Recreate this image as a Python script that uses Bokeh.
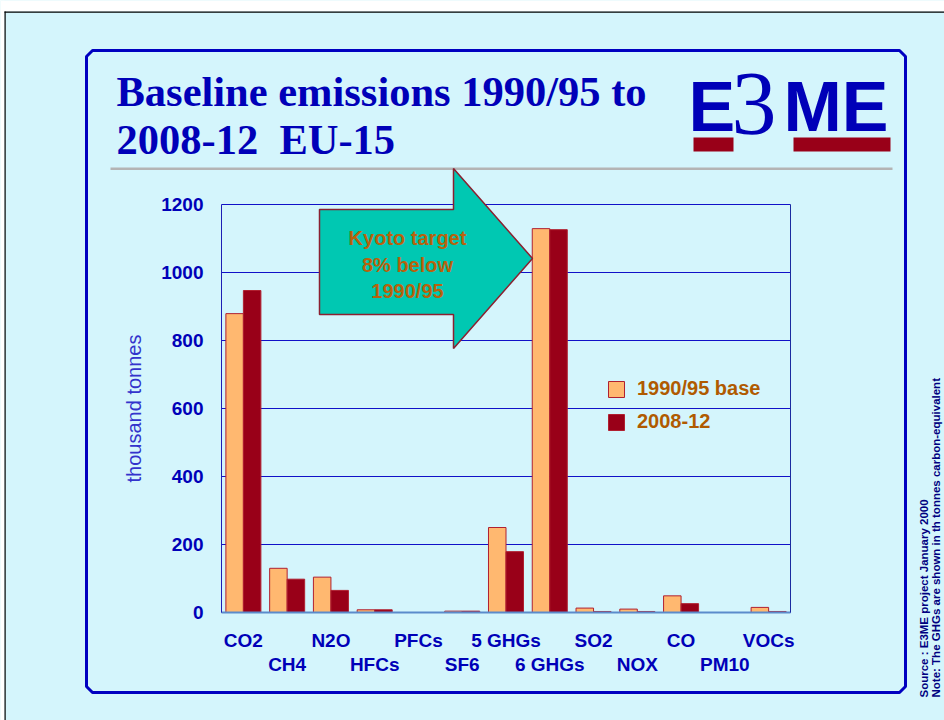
import math
from bokeh.plotting import figure
from bokeh.models import (Range1d, ColumnDataSource, Label, Legend, LegendItem, LinearAxis,
                          FixedTicker)
from bokeh.transform import dodge
from bokeh.embed import file_html
from bokeh.resources import INLINE

# ---------------- data ----------------
categories = ["CO2", "CH4", "N2O", "HFCs", "PFCs", "SF6", "5 GHGs", "6 GHGs",
              "SO2", "NOX", "CO", "PM10", "VOCs"]
base_1990_95 = [879, 130, 104, 8, 0, 4, 250, 1129, 13, 10, 49, 0, 15]
proj_2008_12 = [947, 98, 65, 8, 0, 4, 179, 1126, 3, 3, 26, 0, 3]
y_ticks = [0, 200, 400, 600, 800, 1000, 1200]
series_names = ["1990/95 base", "2008-12"]
title_lines = ["Baseline emissions 1990/95 to", "2008-12\u00a0 EU-15"]
arrow_lines = ["Kyoto target", "8% below", "1990/95"]
source_note = "Source : E3ME project January 2000"
ghg_note = "Note: The GHGs are shown in th tonnes carbon-equivalent"

# ---------------- styles / layout ----------------
BG = "#D4F5FC"
BLUE = "#0000B8"
ORANGE = "#FFB870"
DARKRED = "#990018"
EDGE = "#B02030"
TXT_ORANGE = "#B05A00"

W, H = 944, 720
PX_L, PX_R, PY_T, PY_B = 221, 790, 204, 612   # plot area in canvas pixels
n = len(categories)
YMAX = 1200
centers = [i + 0.5 for i in range(n)]
sx = (PX_R - PX_L) / n
sy = (PY_B - PY_T) / YMAX

p = figure(width=W, height=H, output_backend="svg", toolbar_location=None,
           x_range=Range1d(-PX_L / sx, n + (W - PX_R) / sx),
           y_range=Range1d(-(H - PY_B) / sy, YMAX + PY_T / sy),
           min_border=0, min_border_left=0, min_border_right=0,
           min_border_top=0, min_border_bottom=0,
           background_fill_color=BG, border_fill_color=BG, outline_line_color=None)

# canvas-pixel ranges for the slide decoration
p.extra_x_ranges = {"px": Range1d(0, W)}
p.extra_y_ranges = {"py": Range1d(H, 0)}
KW = dict(x_range_name="px", y_range_name="py")

# ---------------- slide decoration (under the chart) ----------------
p.quad(left=0, right=W, top=0, bottom=11, fill_color="white", line_alpha=0, **KW)
p.quad(left=0, right=4, top=0, bottom=H, fill_color="white", line_alpha=0, **KW)
p.quad(left=4, right=W, top=11, bottom=12.2, fill_color="black", line_alpha=0, **KW)
p.quad(left=4, right=5.2, top=11, bottom=H, fill_color="black", line_alpha=0, **KW)
c = 6
p.patch(x=[86 + c, 905 - c, 905, 905, 905 - c, 86 + c, 86, 86],
        y=[50, 50, 50 + c, 692 - c, 692, 692, 692 - c, 50 + c],
        fill_alpha=0, line_color="#0000C0", line_width=3, **KW)
p.quad(left=110, right=892, top=167, bottom=169.5, fill_color="#B4B4B4", line_alpha=0, **KW)

# ---------------- bars ----------------
src = ColumnDataSource(dict(xc=centers, cat=categories, base=base_1990_95, proj=proj_2008_12))
r1 = p.vbar(x=dodge("xc", -0.2), top="base", width=0.4, source=src,
            fill_color=ORANGE, line_color=EDGE, line_width=1)
r2 = p.vbar(x=dodge("xc", 0.2), top="proj", width=0.4, source=src,
            fill_color=DARKRED, line_color=EDGE, line_width=1)

# ---------------- grid & axes ----------------
p.xgrid.visible = False
g = p.ygrid[0]
g.ticker = FixedTicker(ticks=y_ticks)
g.bounds = (0, YMAX)
g.grid_line_color = "#1010C8"
g.grid_line_width = 1
if "cross_bounds" in g.properties():
    g.cross_bounds = (0, n)
else:
    g.visible = False
    p.segment(x0=0, x1=n, y0=y_ticks, y1=y_ticks, line_color="#1010C8", line_width=1)

ya = p.yaxis[0]
ya.fixed_location = 0
ya.bounds = (0, YMAX)
ya.ticker = FixedTicker(ticks=y_ticks)
ya.major_tick_out = 0
ya.major_tick_in = 0
ya.minor_tick_out = 0
ya.minor_tick_in = 0
ya.major_label_standoff = 18
ya.axis_line_color = "#1E1EB4"
ya.major_label_text_font = "Liberation Sans"
ya.major_label_text_font_style = "bold"
ya.major_label_text_font_size = "19px"
ya.major_label_text_color = BLUE
ya.axis_label = "thousand tonnes"
ya.axis_label_text_font = "Liberation Sans"
ya.axis_label_text_font_style = "normal"
ya.axis_label_text_font_size = "20px"
ya.axis_label_text_color = "#3333CC"
ya.axis_label_standoff = 13

row1 = [i for i in range(n) if i % 2 == 0]
row2 = [i for i in range(n) if i % 2 == 1]
xa1 = p.xaxis[0]
xa1.ticker = FixedTicker(ticks=[centers[i] for i in row1])
xa1.major_label_overrides = {centers[i]: categories[i] for i in row1}
xa1.major_label_standoff = 17
xa1.axis_line_color = "#5B8BCB"
xa1.axis_line_width = 2
xa2 = LinearAxis(ticker=FixedTicker(ticks=[centers[i] for i in row2]),
                 major_label_overrides={centers[i]: categories[i] for i in row2},
                 major_label_standoff=41, axis_line_color=None)
p.add_layout(xa2, "below")
for ax in (xa1, xa2):
    ax.fixed_location = 0
    ax.bounds = (0, n)
    ax.major_tick_out = 0
    ax.major_tick_in = 0
    ax.minor_tick_out = 0
    ax.minor_tick_in = 0
    ax.major_label_text_font = "Liberation Sans"
    ax.major_label_text_font_style = "bold"
    ax.major_label_text_font_size = "19px"
    ax.major_label_text_color = BLUE

# right edge of the plot area
ra = LinearAxis(fixed_location=n, bounds=(0, YMAX), ticker=FixedTicker(ticks=[]),
                major_tick_out=0, major_tick_in=0, minor_tick_out=0, minor_tick_in=0,
                major_label_text_font_size="0px", axis_line_color="#1A2AA0")
p.add_layout(ra, "right")

# ---------------- title & logo ----------------
for txt, yc in zip(title_lines, [90.5, 138.5]):
    p.add_layout(Label(x=116, y=yc, text=txt, text_font="Liberation Serif", text_font_style="bold",
                       text_font_size="42.5px", text_color=BLUE, text_baseline="middle", **KW))

p.add_layout(Label(x=688, y=106, text="E", text_font="Liberation Sans", text_font_style="bold",
                   text_font_size="70px", text_color=BLUE, text_baseline="middle", **KW))
p.add_layout(Label(x=731, y=103.5, text="3", text_font="Liberation Serif", text_font_style="normal",
                   text_font_size="90px", text_color=BLUE, text_baseline="middle", **KW))
p.add_layout(Label(x=783, y=106, text="ME", text_font="Liberation Sans", text_font_style="bold",
                   text_font_size="70px", text_color=BLUE, text_baseline="middle", **KW))
p.quad(left=693, right=733, top=137, bottom=151, fill_color=DARKRED, line_alpha=0, **KW)
p.quad(left=793, right=890, top=137, bottom=151, fill_color=DARKRED, line_alpha=0, **KW)

# ---------------- Kyoto arrow ----------------
p.patch(x=[319, 453, 453, 532, 453, 453, 319],
        y=[209, 209, 168, 258, 348, 314, 314],
        fill_color="#00C8B2", line_color="#8B2030", line_width=1.5, **KW)
for txt, yc in zip(arrow_lines, [237, 264, 290]):
    p.add_layout(Label(x=407, y=yc, text=txt, text_font="Liberation Sans", text_font_style="bold",
                       text_font_size="20px", text_color="#B8620C", text_align="center",
                       text_baseline="middle", **KW))

# ---------------- side notes ----------------
p.add_layout(Label(x=923, y=697, text=source_note, angle=math.pi / 2, text_font="Liberation Sans",
                   text_font_size="11.5px", text_font_style="bold", text_color="#000080",
                   text_baseline="middle", **KW))
p.add_layout(Label(x=935, y=697, text=ghg_note, angle=math.pi / 2, text_font="Liberation Sans",
                   text_font_size="11.5px", text_font_style="bold", text_color="#000080",
                   text_baseline="middle", **KW))

# ---------------- legend ----------------
legend = Legend(items=[LegendItem(label=series_names[0], renderers=[r1]),
                       LegendItem(label=series_names[1], renderers=[r2])],
                location=(606, H - 433), orientation="vertical",
                glyph_width=20, glyph_height=20, label_height=20, spacing=10, label_standoff=11,
                padding=0, margin=0, border_line_alpha=0, background_fill_alpha=0,
                label_text_font="Liberation Sans", label_text_font_style="bold",
                label_text_font_size="20px", label_text_color=TXT_ORANGE)
p.add_layout(legend, "center")

open("out.html", "w").write(file_html(p, INLINE))
